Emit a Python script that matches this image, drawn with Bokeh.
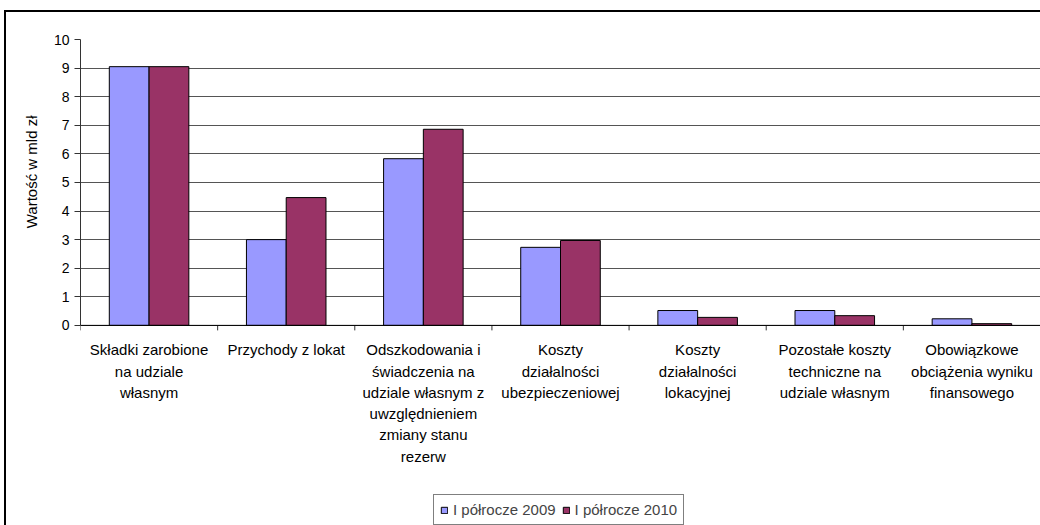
import numpy as np
from bokeh.plotting import figure
from bokeh.models import FixedTicker, Legend, LegendItem, Range1d, ColumnDataSource, Span, Title
from bokeh.core.properties import value
from bokeh.embed import file_html
from bokeh.resources import INLINE

categories = [
    "Składki zarobione\nna udziale\nwłasnym",
    "Przychody z lokat",
    "Odszkodowania i\nświadczenia na\nudziale własnym z\nuwzględnieniem\nzmiany stanu\nrezerw",
    "Koszty\ndziałalności\nubezpieczeniowej",
    "Koszty\ndziałalności\nlokacyjnej",
    "Pozostałe koszty\ntechniczne na\nudziale własnym",
    "Obowiązkowe\nobciążenia wyniku\nfinansowego",
]
series_2009 = [9.05, 3.0, 5.83, 2.73, 0.52, 0.52, 0.23]
series_2010 = [9.05, 4.47, 6.86, 2.97, 0.28, 0.34, 0.06]
series_names = ["I półrocze 2009", "I półrocze 2010"]
y_ticks = [0, 1, 2, 3, 4, 5, 6, 7, 8, 9, 10]
y_label = "Wartość w mld zł"

FONT = "Liberation Sans"
n = len(categories)
centers = np.arange(n) + 0.5
bounds = np.arange(n + 1).astype(float)
bw = 0.29

# frame extends below zero so that category labels and legend live inside it
p = figure(frame_width=960, frame_height=486, x_range=Range1d(0, n), y_range=Range1d(-7, 10),
           output_backend="svg", toolbar_location=None,
           min_border_left=74, min_border_right=0, min_border_top=27, min_border_bottom=0)
p.margin = (10, 0, 0, 4)
p.styles = {"border-left": "2px solid black", "border-top": "2px solid black"}
p.outline_line_color = None
p.background_fill_color = "white"
p.border_fill_color = "white"

src09 = ColumnDataSource(dict(x=centers - bw / 2, top=series_2009))
src10 = ColumnDataSource(dict(x=centers + bw / 2, top=series_2010))

p.xgrid.visible = False
p.ygrid.ticker = FixedTicker(ticks=y_ticks)
p.ygrid.grid_line_color = "#555555"
p.ygrid.grid_line_width = 1

r1 = p.vbar(x="x", top="top", bottom=0, width=bw, source=src09,
            fill_color="#9999FF", line_color="black", line_width=1)
r2 = p.vbar(x="x", top="top", bottom=0, width=bw, source=src10,
            fill_color="#993366", line_color="black", line_width=1)

# category axis line at zero, ticks between categories, labels under categories
p.add_layout(Span(location=0, dimension="width", line_color="black", line_width=1))
p.ray(x=bounds, y=np.zeros(n + 1), length=5, length_units="screen", angle=-np.pi / 2,
      line_color="#333333", line_width=1)
p.text(x=centers, y=np.zeros(n), text=categories, y_offset=16,
       text_align="center", text_baseline="top", text_font=value(FONT),
       text_font_size="15px", text_color="black", text_line_height=1.25)
p.xaxis.visible = False

ya = p.yaxis[0]
ya.bounds = (0, 10)
ya.ticker = FixedTicker(ticks=y_ticks, minor_ticks=[])
ya.major_tick_out = 6
ya.major_tick_in = 0
ya.minor_tick_out = 0
ya.minor_tick_in = 0
ya.axis_line_color = "#333333"
ya.major_tick_line_color = "#333333"
ya.major_label_text_font = FONT
ya.major_label_text_font_size = "14px"
ya.major_label_text_color = "black"
ya.major_label_standoff = 5

# y-axis title, placed next to the 0-10 part of the axis
ytitle = Title(text=y_label, align="right", offset=76, standoff=22,
               text_font=FONT, text_font_size="15px", text_font_style="normal",
               text_color="black")
p.add_layout(ytitle, "left")

legend = Legend(items=[LegendItem(label=series_names[0], renderers=[r1]),
                       LegendItem(label=series_names[1], renderers=[r2])],
                orientation="horizontal", location=(353, 0))
legend.label_text_font = FONT
legend.label_text_font_size = "15px"
legend.glyph_width = 8
legend.glyph_height = 8
legend.label_standoff = 5
legend.spacing = 6
legend.padding = 6
legend.margin = 0
legend.border_line_color = "black"
legend.border_line_width = 1
legend.background_fill_color = "white"
p.add_layout(legend, "center")

open("out.html", "w").write(file_html(p, INLINE))
